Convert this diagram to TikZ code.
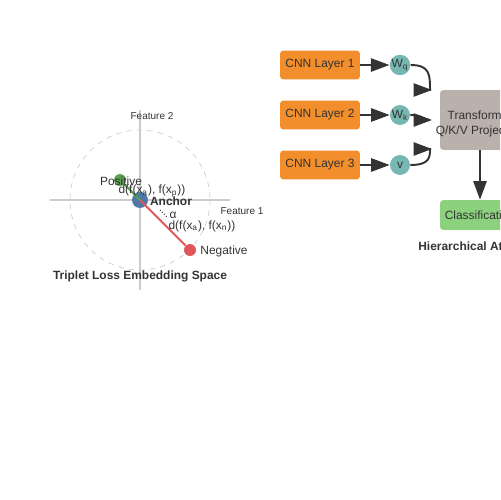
\documentclass[tikz,border=0pt]{standalone}
\usepackage{fontspec}
\setmainfont{Liberation Sans}
\usetikzlibrary{arrows.meta}
\definecolor{textgrey}{HTML}{333333}
\definecolor{axisgrey}{HTML}{CCCCCC}
\definecolor{cnnorange}{HTML}{F28E2B}
\definecolor{wteal}{HTML}{76B7B2}
\definecolor{transgrey}{HTML}{BAB0AC}
\definecolor{clsgreen}{HTML}{8CD17D}
\definecolor{anchorblue}{HTML}{4E79A7}
\definecolor{posgreen}{HTML}{59A14F}
\definecolor{negred}{HTML}{E15759}

\tikzset{
	txt/.style={text=textgrey,inner sep=0pt,font=\fontsize{6.8pt}{8pt}\selectfont},
	smalltxt/.style={txt,font=\fontsize{5.7pt}{7pt}\selectfont},
	boldtxt/.style={txt,font=\fontsize{6.8pt}{8pt}\selectfont\bfseries},
	layerbox/.style={rectangle,rounded corners=2pt,fill=cnnorange,minimum width=1.6cm,minimum height=0.58cm,txt},
	wcirc/.style={circle,fill=wteal,minimum size=0.4cm,inner sep=0pt,txt},
	pt/.style={circle,inner sep=0pt,minimum size=#1},
	bigarrow/.style={line width=1.1pt,draw=textgrey,-{Triangle[length=10.5pt,width=7.5pt]}}
}

\begin{document}
\begin{tikzpicture}[x=0.02cm,y=-0.02cm]
	\useasboundingbox (0,0) rectangle (500,500);
	\clip (0,0) rectangle (500,500);

	% embedding space
	\draw[axisgrey,line width=1.1pt] (50,200) -- (230,200);
	\draw[axisgrey,line width=1.1pt] (140,110) -- (140,290);
	\draw[axisgrey,dashed,line width=0.4pt] (140,200) circle (70);
	\node[smalltxt] (f2) at (152,116) {Feature 2};
	\node[smalltxt] (f1) at (242,211) {Feature 1};

	\node[pt=0.32cm,fill=anchorblue] (anc) at (140,200) {};
	\node[pt=0.24cm,fill=posgreen] (pos) at (120,180) {};
	\node[pt=0.24cm,fill=negred] (neg) at (190,250) {};
	\draw[posgreen,line width=1.1pt] (anc.center) -- (pos);
	\draw[negred,line width=1.1pt] (anc.center) -- (neg);

	\node[boldtxt] (anclab) at (171,201) {Anchor};
	\node[txt] (poslab) at (121,181) {Positive};
	\node[txt] (neglab) at (224,251) {Negative};
	\node[txt] (dap) at (152,191) {d(f(x\textsubscript{a}), f(x\textsubscript{p}))};
	\node[txt] (dan) at (202,226) {d(f(x\textsubscript{a}), f(x\textsubscript{n}))};
	\coordinate (m1) at (160,210);
	\coordinate (m2) at (168,218);
	\draw[textgrey,densely dotted,line width=0.6pt] (m1) -- (m2);
	\node[txt] (alpha) at (173,215) {α};
	\node[boldtxt] (ttl1) at (140,276) {Triplet Loss Embedding Space};

	% hierarchical attention
	\foreach \i/\lab in {1/W\textsubscript{q},2/W\textsubscript{k},3/v}{
		\node[layerbox] (L\i) at (320,15+50*\i) {CNN Layer \i};
		\node[wcirc] (w\i) at (400,15+50*\i) {\lab};
		\draw[bigarrow] (L\i.east) -- (w\i.west);
	}
	\node[rectangle,rounded corners=2pt,fill=transgrey,minimum width=1.6cm,minimum height=1.2cm] (trans) at (480,120) {};
	\node[txt,align=center] (translab) at (480,124) {Transformer\\[1pt]Q/K/V Projection};
	\node[rectangle,rounded corners=2pt,fill=clsgreen,minimum width=1.6cm,minimum height=0.6cm,txt] (cls) at (480,215) {Classification};
	\coordinate (in1) at (432,90);
	\coordinate (in2) at (432,120);
	\coordinate (in3) at (432,149);
	\draw[bigarrow] (w1.east) .. controls (430,65) and (430,75) .. (430,90) -- (in1);
	\draw[bigarrow] (w2.east) .. controls (422,115) and (424,120) .. (430,120) -- (in2);
	\draw[bigarrow] (w3.east) .. controls (430,165) and (430,157) .. (430,149) -- (in3);
	\draw[bigarrow] (trans.south) -- (cls.north);
	\node[boldtxt,anchor=west] (ttl2) at (418,246) {Hierarchical Attention};
\end{tikzpicture}
\end{document}
